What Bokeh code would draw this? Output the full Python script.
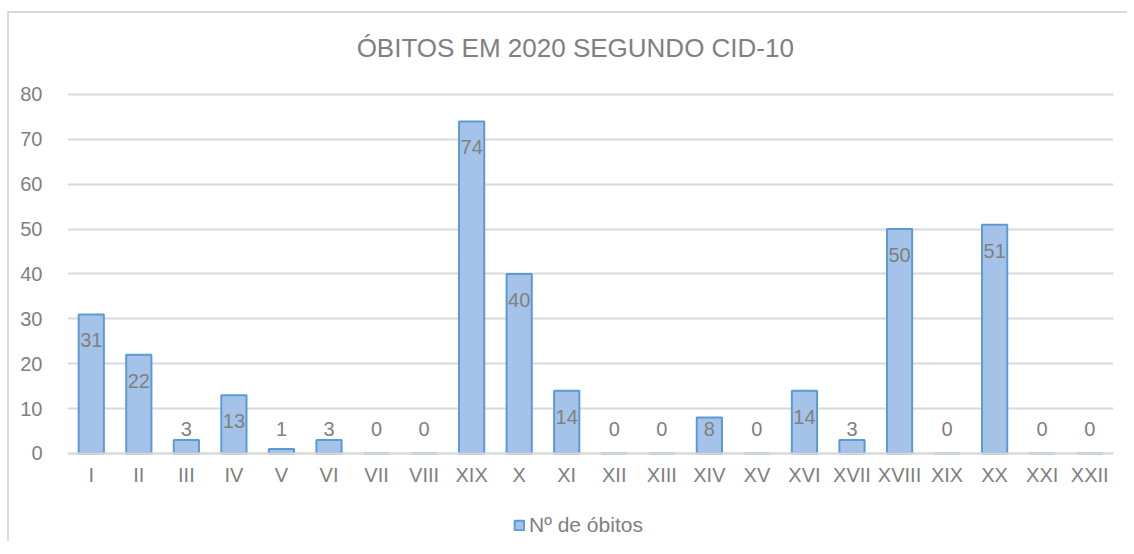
from bokeh.plotting import figure
from bokeh.models import (ColumnDataSource, Range1d, FixedTicker, Legend, LegendItem)
from bokeh.embed import file_html
from bokeh.resources import INLINE
from bokeh.core.properties import value

categories = ["I", "II", "III", "IV", "V", "VI", "VII", "VIII", "XIX", "X", "XI", "XII",
              "XIII", "XIV", "XV", "XVI", "XVII", "XVIII", "XIX", "XX", "XXI", "XXII"]
obitos = [31, 22, 3, 13, 1, 3, 0, 0, 74, 40, 14, 0, 0, 8, 0, 14, 3, 50, 0, 51, 0, 0]
y_ticks = [0, 10, 20, 30, 40, 50, 60, 70, 80]
title_text = "ÓBITOS EM 2020 SEGUNDO CID-10"
series_name = "Nº de óbitos"

FONT = "Liberation Sans"
GREY = "#808080"

xs = list(range(1, len(categories) + 1))
# label placement: inside end for tall bars, fixed floor for short ones
lab_y = [max(v - 5.8, 5.35) for v in obitos]
src = ColumnDataSource(dict(x=xs, top=obitos, lab=[str(v) for v in obitos], lab_y=lab_y))
title_src = ColumnDataSource(dict(x=[11.18], y=[90.4], t=[title_text]))

p = figure(width=1120, height=530, output_backend="svg", toolbar_location=None,
           x_range=Range1d(0.5, len(categories) + 0.5), y_range=Range1d(-20.06, 98.05),
           min_border_left=58, min_border_right=16, min_border_top=0, min_border_bottom=0)
p.styles = {"border-top": "2px solid #d9d9d9", "border-left": "2px solid #d9d9d9",
            "margin-top": "11px", "margin-left": "7px"}
p.outline_line_color = None
p.background_fill_color = "white"
p.border_fill_color = "white"

bars = p.vbar(x="x", top="top", bottom=0, width=0.53, source=src,
              fill_color="#a5c3e8", line_color="#5b9bd5", line_width=2)

p.text(x="x", y="lab_y", text="lab", source=src, text_align="center", text_baseline="middle",
       text_font=value(FONT), text_font_size="20px", text_color=GREY)

p.text(x="x", y="y", text="t", source=title_src, text_align="center", text_baseline="alphabetic",
       text_font=value(FONT), text_font_size="26px", text_color=GREY)

p.xgrid.grid_line_color = None
p.ygrid.grid_line_color = "#d9d9d9"
p.ygrid.grid_line_width = 2
p.ygrid.ticker = FixedTicker(ticks=y_ticks)

p.yaxis.ticker = FixedTicker(ticks=y_ticks)
p.yaxis.axis_line_color = None
p.yaxis.major_tick_line_color = None
p.yaxis.minor_tick_line_color = None
p.yaxis.major_label_standoff = 19
p.yaxis.major_label_text_font = FONT
p.yaxis.major_label_text_font_size = "20px"
p.yaxis.major_label_text_color = GREY

p.xaxis.fixed_location = 0
p.xaxis.ticker = FixedTicker(ticks=xs)
p.xaxis.major_label_overrides = {x: c for x, c in zip(xs, categories)}
p.xaxis.axis_line_color = "#d9d9d9"
p.xaxis.axis_line_width = 2
p.xaxis.major_tick_line_color = None
p.xaxis.minor_tick_line_color = None
p.xaxis.major_label_standoff = 5
p.xaxis.major_label_text_font = FONT
p.xaxis.major_label_text_font_size = "20px"
p.xaxis.major_label_text_color = GREY

legend = Legend(items=[LegendItem(label=series_name, renderers=[bars])],
                location=(446, 6), orientation="horizontal",
                padding=0, margin=0, spacing=0, glyph_width=12, glyph_height=12,
                label_standoff=4, label_height=24,
                label_text_font=FONT, label_text_font_size="21px", label_text_color=GREY,
                border_line_color=None, background_fill_alpha=0)
p.add_layout(legend, "center")

open("out.html", "w").write(file_html(p, INLINE))
